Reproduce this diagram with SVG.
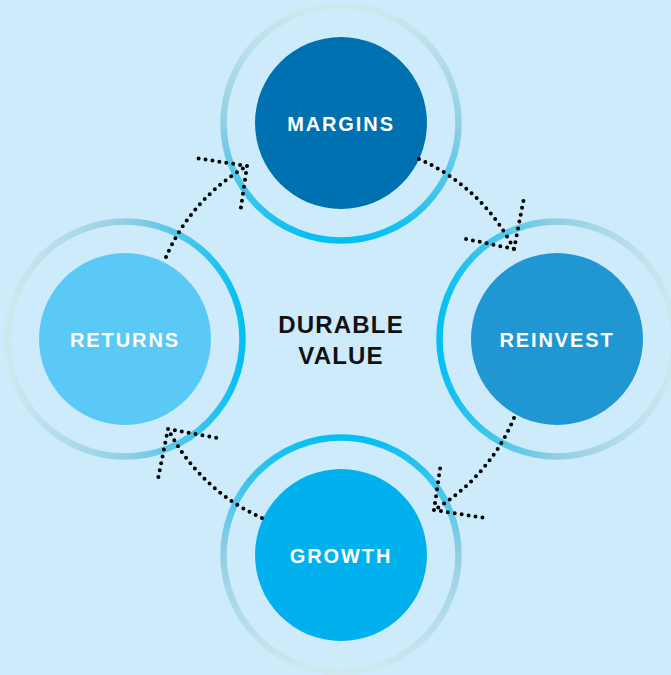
<svg xmlns="http://www.w3.org/2000/svg" width="671" height="675" viewBox="0 0 671 675">
  <defs>
    <linearGradient id="gDown" x1="0" y1="0" x2="0" y2="1">
      <stop offset="0" stop-color="#cfe8f0"/>
      <stop offset="0.5" stop-color="#92cfe3"/>
      <stop offset="1" stop-color="#05bff2"/>
    </linearGradient>
    <linearGradient id="gLeft" x1="1" y1="0" x2="0" y2="0">
      <stop offset="0" stop-color="#cfe8f0"/>
      <stop offset="0.5" stop-color="#92cfe3"/>
      <stop offset="1" stop-color="#05bff2"/>
    </linearGradient>
    <linearGradient id="gUp" x1="0" y1="1" x2="0" y2="0">
      <stop offset="0" stop-color="#cfe8f0"/>
      <stop offset="0.5" stop-color="#92cfe3"/>
      <stop offset="1" stop-color="#05bff2"/>
    </linearGradient>
    <linearGradient id="gRight" x1="0" y1="0" x2="1" y2="0">
      <stop offset="0" stop-color="#cfe8f0"/>
      <stop offset="0.5" stop-color="#92cfe3"/>
      <stop offset="1" stop-color="#05bff2"/>
    </linearGradient>
  </defs>
  <style>
    .ring { fill: none; stroke-width: 6.5; }
    .label { fill: #ffffff; font-family: "Liberation Sans", Arial, sans-serif; font-weight: bold; font-size: 20px; letter-spacing: 1.9px; text-anchor: middle; }
    .center { fill: #111111; font-family: "Liberation Sans", Arial, sans-serif; font-weight: bold; font-size: 24px; letter-spacing: 1.2px; text-anchor: middle; }
    .dots { fill: none; stroke: #000000; stroke-width: 4; stroke-linecap: round; stroke-dasharray: 0 7; }
  </style>
  <rect x="0" y="0" width="671" height="675" fill="#cdebfa"/>

  <g id="node-margins">
    <circle class="ring" cx="341" cy="123" r="117.5" stroke="url(#gDown)"/>
    <circle cx="341" cy="123" r="86" fill="#0071b0"/>
    <text class="label" x="341" y="131">MARGINS</text>
  </g>
  <g id="node-reinvest">
    <circle class="ring" cx="557" cy="339" r="117.5" stroke="url(#gLeft)"/>
    <circle cx="557" cy="339" r="86" fill="#2096d3"/>
    <text class="label" x="557" y="347">REINVEST</text>
  </g>
  <g id="node-growth">
    <circle class="ring" cx="341" cy="555" r="117.5" stroke="url(#gUp)"/>
    <circle cx="341" cy="555" r="86" fill="#00b1ee"/>
    <text class="label" x="341" y="563">GROWTH</text>
  </g>
  <g id="node-returns">
    <circle class="ring" cx="125" cy="339" r="117.5" stroke="url(#gRight)"/>
    <circle cx="125" cy="339" r="86" fill="#5bc9f5"/>
    <text class="label" x="125" y="347">RETURNS</text>
  </g>
  <g id="node-center">
    <text class="center" x="341" y="333">DURABLE</text>
    <text class="center" x="341" y="364">VALUE</text>
  </g>

  <g id="connectors">
    <path class="dots" d="M419,159 A195,195 0 0 1 514,249"/>
    <path class="dots" d="M514,249 L466,239 M514,249 L524,198"/>
    <path class="dots" d="M514,418 A195,195 0 0 1 434,510"/>
    <path class="dots" d="M434,510 L441,462 M434,510 L485,518"/>
    <path class="dots" d="M262,518 A195,195 0 0 1 168,429"/>
    <path class="dots" d="M168,429 L158,479 M168,429 L217,438"/>
    <path class="dots" d="M166,257 A195,195 0 0 1 247,166"/>
    <path class="dots" d="M247,166 L196,158 M247,166 L240,214"/>
  </g>
</svg>
